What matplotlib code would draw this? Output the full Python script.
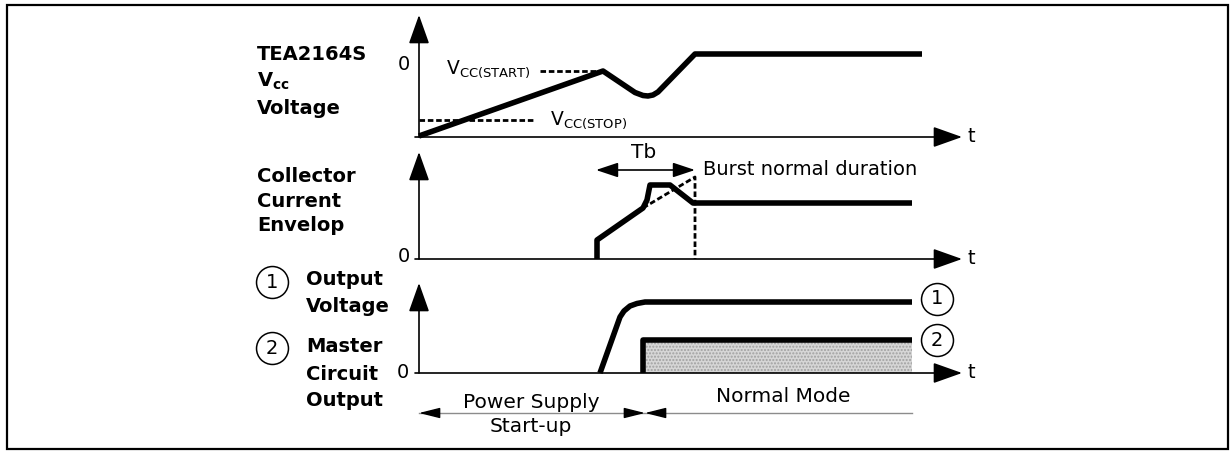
import matplotlib.pyplot as plt
from matplotlib.patches import Rectangle
import numpy as np

W, H = 1231, 451

# time axis length (same for all three panels)
T_END = 54.3

# panel 1 : TEA2164S Vcc voltage
vcc_t = [0, 18.4, 21.6, 22.4, 22.9, 23.4, 23.9, 27.6, 50.3]
vcc_v = [0.1, 6.6, 4.45, 4.15, 4.1, 4.2, 4.5, 8.3, 8.3]
vcc_start_t = [12.1, 18.4]
vcc_start_v = 6.6
vcc_stop_t = [0, 11.6]
vcc_stop_v = 1.7

# panel 2 : collector current envelope
coll_t = [17.8, 17.8, 22.4, 22.8, 23.1, 25.1, 27.4, 49.3]
coll_v = [0, 1.9, 5.1, 5.9, 7.4, 7.4, 5.6, 5.6]
burst_t = [22.4, 27.6, 27.6]
burst_v = [5.1, 8.2, 0]
tb_span = [17.7, 27.6]
tb_v = 8.9

# panel 3 : output voltage (1) and master circuit output (2)
out1_t = [18.1, 20.1, 20.5, 21.1, 21.8, 22.6, 49.3]
out1_v = [0, 5.6, 6.2, 6.7, 6.95, 7.1, 7.1]
out2_t = [22.4, 22.4, 49.3]
out2_v = [0, 3.3, 3.3]

startup_span = [0, 22.6]
normal_span = [22.6, 49.3]

labels_p1 = ['TEA2164S', r'$\mathbf{V}_{\mathbf{cc}}$', 'Voltage']
labels_p2 = ['Collector', 'Current', 'Envelop']
labels_p3 = ['Output', 'Voltage', 'Master', 'Circuit', 'Output']

plt.rcParams['font.family'] = ['DejaVu Sans']
fig = plt.figure(figsize=(W / 100, H / 100), dpi=100)

# outer frame
fig.patches.append(Rectangle((7 / W, 1 - 449 / H), 1221 / W, 444 / H,
                             transform=fig.transFigure, fill=False,
                             lw=1.6, ec='black'))


def panel(base, top):
    ax = fig.add_axes([419 / W, 1 - base / H, T_END * 10 / W, (base - top) / H])
    ymax = (base - top) / 10
    ax.set_xlim(0, T_END)
    ax.set_ylim(0, ymax)
    ax.axis('off')
    axis_arrow = dict(arrowstyle='-|>,head_length=0.9,head_width=0.32',
                      lw=1.2, color='black', shrinkA=0, shrinkB=0,
                      mutation_scale=20)
    ax.annotate('', xy=(0, ymax), xytext=(0, 0), arrowprops=axis_arrow,
                annotation_clip=False)
    ax.annotate('', xy=(T_END, 0), xytext=(-0.4, 0), arrowprops=axis_arrow,
                annotation_clip=False)
    ax.text(T_END + 0.5, 0, 't', fontsize=14, va='center', ha='left')
    return ax


thick = dict(color='black', lw=4, solid_joinstyle='round',
             solid_capstyle='butt', clip_on=False)
dashed = dict(color='black', lw=2, ls=(0, (2, 1)), clip_on=False)
bold = dict(fontsize=14, fontweight='bold', va='center', ha='left')

# ---- panel 1
ax1 = panel(137, 15)
ax1.plot(vcc_start_t, [vcc_start_v] * 2, **dashed)
ax1.plot(vcc_stop_t, [vcc_stop_v] * 2, **dashed)
ax1.plot(vcc_t, vcc_v, **thick)
ax1.text(2.7, vcc_start_v + 0.2, r'$\mathregular{V_{CC(START)}}$', fontsize=13.5,
         va='center', ha='left')
ax1.text(13.1, vcc_stop_v, r'$\mathregular{V_{CC(STOP)}}$', fontsize=13.5,
         va='center', ha='left')
ax1.text(-1.5, 7.3, '0', fontsize=14, va='center', ha='center')
for lab, v in zip(labels_p1, [8.2, 5.6, 2.9]):
    ax1.text(-16.2, v, lab, **bold)

# ---- panel 2
ax2 = panel(259, 152)
ax2.plot(burst_t, burst_v, **dashed)
ax2.plot(coll_t, coll_v, **thick)
ax2.annotate('', xy=(tb_span[0], tb_v), xytext=(tb_span[1], tb_v),
             arrowprops=dict(arrowstyle='<|-|>,head_length=0.9,head_width=0.3',
                             lw=1.2, color='black', shrinkA=0, shrinkB=0,
                             mutation_scale=15))
ax2.text(np.mean(tb_span) - 0.2, 10.6, 'Tb', fontsize=14.5, va='center', ha='center')
ax2.text(28.4, tb_v, 'Burst normal duration', fontsize=14, va='center', ha='left')
ax2.text(-1.5, 0.2, '0', fontsize=14, va='center', ha='center')
for lab, v in zip(labels_p2, [8.2, 5.7, 3.3]):
    ax2.text(-16.2, v, lab, **bold)

# ---- panel 3
ax3 = panel(373, 283)
ax3.fill_between(out2_t[1:], 0, out2_v[1:], facecolor='#d6d6d6',
                 hatch='.....', edgecolor='#a0a0a0', lw=0)
ax3.plot(out1_t, out1_v, **thick)
ax3.plot(out2_t, out2_v, **thick)
ax3.text(-1.6, 0, '0', fontsize=14, va='center', ha='center')
for lab, v in zip(labels_p3, [9.3, 6.7, 2.6, -0.1, -2.8]):
    ax3.text(-11.3, v, lab, **bold)

circles = [('1', 51.8, 7.4), ('2', 51.8, 3.3), ('1', -14.7, 9.1), ('2', -14.7, 2.5)]
for num, t, v in circles:
    ax3.plot(t, v, 'o', ms=23, mfc='white', mec='black', mew=1.1, clip_on=False)
    ax3.text(t, v, num, fontsize=14, va='center', ha='center')

# start-up / normal mode spans
yb = -4.0
ax3.plot([startup_span[0], normal_span[1]], [yb, yb], color='#8c8c8c', lw=1, clip_on=False)
head = dict(arrowstyle='-|>,head_length=0.8,head_width=0.2', lw=1,
            color='black', shrinkA=0, shrinkB=0, mutation_scale=16)
for tip, tail in [(startup_span[0], startup_span[0] + 1.8),
                  (startup_span[1], startup_span[1] - 1.8),
                  (normal_span[0], normal_span[0] + 1.8)]:
    ax3.annotate('', xy=(tip, yb), xytext=(tail, yb), arrowprops=head,
                 annotation_clip=False)
ax3.text(np.mean(startup_span) - 0.1, -2.9, 'Power Supply', fontsize=14.5,
         va='center', ha='center')
ax3.text(np.mean(startup_span) - 0.1, -5.4, 'Start-up', fontsize=14.5,
         va='center', ha='center')
ax3.text(36.4, -2.4, 'Normal Mode', fontsize=14.5, va='center', ha='center')

fig.savefig('out.png', dpi=100)
